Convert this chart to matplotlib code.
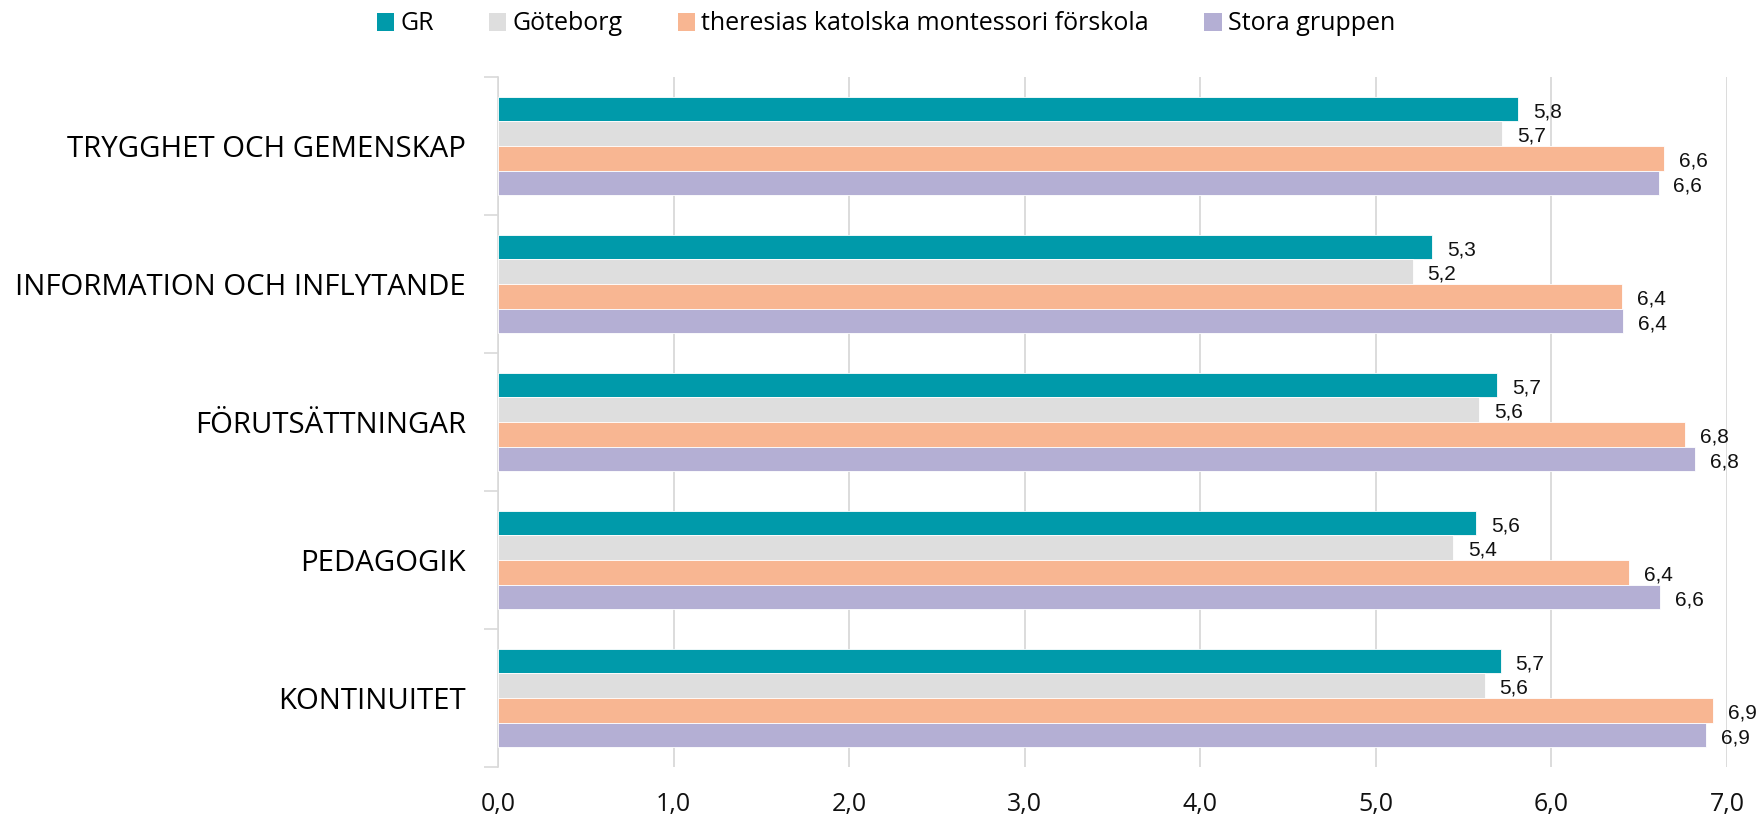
import matplotlib
matplotlib.use("Agg")
import matplotlib.pyplot as plt
from matplotlib.patches import Patch
import numpy as np

categories = ["TRYGGHET OCH GEMENSKAP", "INFORMATION OCH INFLYTANDE",
              "FÖRUTSÄTTNINGAR", "PEDAGOGIK", "KONTINUITET"]
series_names = ["GR", "Göteborg", "theresias katolska montessori förskola", "Stora gruppen"]
gr = [5.81, 5.32, 5.69, 5.57, 5.71]
goteborg = [5.72, 5.21, 5.59, 5.44, 5.62]
theresias = [6.64, 6.40, 6.76, 6.44, 6.92]
stora = [6.61, 6.41, 6.82, 6.62, 6.88]
xticks = [0, 1, 2, 3, 4, 5, 6, 7]
xtick_labels = ["0,0", "1,0", "2,0", "3,0", "4,0", "5,0", "6,0", "7,0"]

colors = ["#009AAA", "#DEDEDE", "#F8B692", "#B4AFD4"]
series = [gr, goteborg, theresias, stora]

fig = plt.figure(figsize=(17.61, 8.14), dpi=100)
ax = fig.add_axes([498 / 1761, 1 - 767 / 814, (1727 - 498) / 1761, (767 - 77) / 814])

bar_h = 0.178
y = np.arange(len(categories))
for i, (vals, col) in enumerate(zip(series, colors)):
    pos = y - 1.5 * bar_h + i * bar_h
    ax.barh(pos, vals, height=bar_h, color=col, edgecolor="white", linewidth=0.6, zorder=3)
    for p, v in zip(pos, vals):
        ax.text(v + 0.085, p + 0.02, f"{v:.1f}".replace(".", ","), va="center", ha="left",
                fontsize=15, family="Liberation Sans", color="#111111", zorder=4)

ax.set_xlim(0, 7)
ax.set_ylim(len(categories) - 0.5, -0.5)
ax.set_xticks(xticks)
ax.set_xticklabels(xtick_labels, fontsize=18, family="Open Sans", color="#111111")
ax.set_yticks(y)
ax.set_yticklabels(categories, fontsize=21.2, family="Open Sans", color="#000000")
ax.tick_params(axis="y", length=0, pad=23)
ax.tick_params(axis="x", length=0, pad=18)
ax.set_yticks(np.arange(-0.5, len(categories)), minor=True)
ax.tick_params(axis="y", which="minor", length=10, color="#D9D9D9", width=1.2)
ax.grid(axis="x", color="#D9D9D9", linewidth=1.3, zorder=0)
for s in ["top", "right", "bottom"]:
    ax.spines[s].set_visible(False)
ax.spines["left"].set_color("#D9D9D9")
ax.spines["left"].set_linewidth(1.2)

handles = [Patch(facecolor=c, edgecolor="none") for c in colors]
fig.legend(handles, series_names, loc="center", bbox_to_anchor=(0.503, 1 - 24 / 814),
           ncol=4, frameon=False, handlelength=0.7, handleheight=0.7, handletextpad=0.25,
           columnspacing=2.2, prop={"family": "Open Sans", "size": 18})

fig.savefig("out.png", dpi=100, facecolor="white")
